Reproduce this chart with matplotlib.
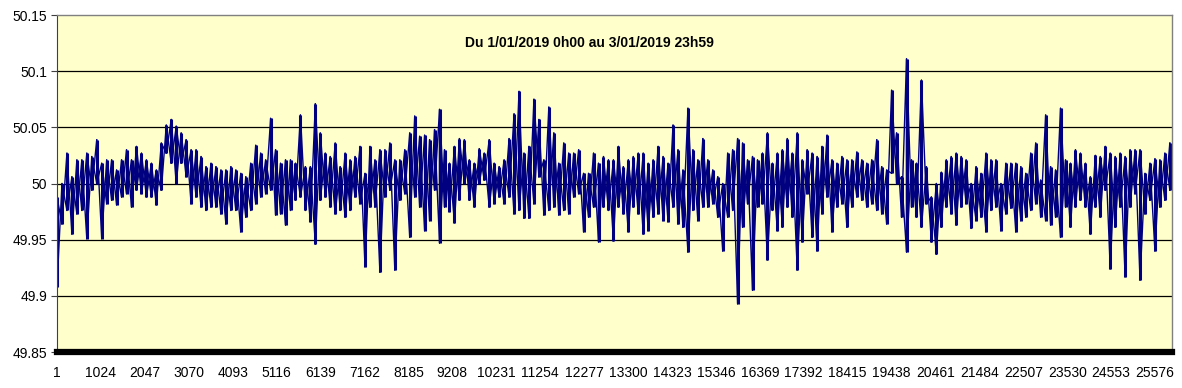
import matplotlib
matplotlib.use('Agg')
import numpy as np
import matplotlib.pyplot as plt

plt.rcParams['font.family'] = ['Liberation Sans', 'DejaVu Sans']

TITLE = 'Du 1/01/2019 0h00 au 3/01/2019 23h59'
NPTS = 25920                       # 3 days of 10 s samples
XTICKS = list(range(1, 25577, 1023))
YTICKS = [49.85, 49.9, 49.95, 50.0, 50.05, 50.1, 50.15]
YLABELS = ['49.85', '49.9', '49.95', '50', '50.05', '50.1', '50.15']

# upper / lower envelope of the trace, in mHz from 50 Hz
HI = [-12, 0, 27, 6, 21, 21, 27, 24, 39, 18, 21, 21, 12, 21, 30, 21, 33, 27, 21, 18, 12, 36, 52, 57, 51,
      45, 39, 30, 30, 24, 15, 18, 15, 12, 12, 15, 12, 9, 6, 18, 34, 27, 21, 58, 30,
      18, 21, 21, 18, 61, 15, 15, 71, 45, 27, 24, 36, 15, 27, 21, 24, 33, 9, 33, 21, 30, 30, 36, 21, 21,
      30, 45, 60, 42, 43, 39, 48, 66, 30, 18, 33, 40, 39, 21, 18, 31, 27, 39, 18, 15,
      21, 40, 62, 82, 27, 33, 75, 57, 21, 68, 45, 18, 36, 27, 27, 30, 9, 9, 27, 18, 24, 21, 21, 33, 15,
      21, 24, 27, 27, 18, 21, 33, 24, 18, 52, 30, 12, 67, 30, 21, 40, 21, 12, 6, 0,
      27, 30, 40, 36, 21, 24, 21, 27, 45, 18, 27, 30, 40, 27, 45, 21, 30, 27, 24, 33, 43, 21, 18, 24, 21,
      21, 28, 21, 18, 21, 39, 15, 12, 83, 45, 6, 111, 21, 18, 92, 15, -12, 0, 10, 21,
      24, 27, 24, 21, 0, 15, 9, 27, 21, 21, 0, 18, 18, 18, 15, 9, 27, 36, 3, 61, 15, 12, 67, 21, 18,
      30, 27, 18, 6, 25, 24, 33, 27, 24, 27, 24, 30, 30, 30, 9, 18, 22, 21, 27, 36]
LO = [-92, -36, -24, -45, -27, -24, -49, -6, 0, -49, -18, -15, -19, -12, -9, -21, -6, -9, -12, -12, -19, -6,
      27, 18, 0, 18, 6, -18, -12, -21, -24, -21, -21, -27, -36, -24, -24, -43, -30, -24, -18, -12, -9, -6, -28,
      -27, -37, -24, -15, -12, -24, -34, -54, -15, -12, -21, -27, -24, -30, -24, -12, -18, -74, -21, -21,
      -79, -12, -6, -77, -15, -9, -48, -12, -21, -42, -33, -6, -53, -21, -25, -35, -15, 0, -15, -21, 0, 3, -21, -18, -12,
      -18, -12, -27, -24, -31, -31, -18, 6, -28, -24, -21, -28, -24, -27, -12, -9, -43, -30, -21, -52,
      -21, -24, -51, -21, -27, -43, -21, -27, -45, -42, -30, -27, -33, -34, -21, -36, -39, -61, -24, -33, -21, -21, -18, -30, -60,
      -30, -24, -107, -39, -18, -95, -21, -18, -68, -24, -42, -39, -21, -30, -77, -52, -9, -48, -60, -27,
      -12, -43, -21, -18, -39, -21, -12, -15, -21, -18, -24, -27, -36, 9, 0, -30, -61, -21, -30, -39, -18, -52, -63, -39, -21,
      -27, -37, -21, -18, -40, -33, -30, -43, -24, -21, -42, -27, -22, -43, -33, -30, -24, -18, -30, -33,
      -37, -30, -48, -21, -39, -21, -15, -21, -45, -21, -30, -6, -76, -39, -21, -83, -21, -9, -86, -27, -15, -60, -21, -15, -6]

BG = '#FFFFCC'
LINE = '#000080'

hi = 50 + np.array(HI) / 1000.0
lo = 50 + np.array(LO) / 1000.0
pos = np.linspace(1, NPTS, len(HI))
xx = np.repeat(pos, 2)
path_a = np.column_stack([hi, lo]).ravel()   # down inside each slot
path_b = np.column_stack([lo, hi]).ravel()   # up inside each slot

fig = plt.figure(figsize=(11.82, 3.88), dpi=100)
ax = fig.add_axes([57 / 1182, 36 / 388, 1115 / 1182, 337 / 388])
ax.set_facecolor(BG)

for v in YTICKS[1:-1]:
    ax.axhline(v, color='black', lw=0.9, zorder=1)
ax.vlines(pos, lo, hi, color=LINE, lw=2.2, zorder=2)
ax.plot(xx, path_a, color=LINE, lw=1.0, zorder=2)
ax.plot(xx, path_b, color=LINE, lw=1.0, zorder=2)

ax.set_xlim(1, 25970)
ax.set_ylim(49.85, 50.15)
ax.set_yticks(YTICKS)
ax.set_yticklabels(YLABELS)
ax.set_xticks(XTICKS)
ax.set_xticklabels([str(t) for t in XTICKS])
ax.tick_params(axis='y', length=4, width=0.8, pad=3, labelsize=10, color='#404040')
ax.tick_params(axis='x', length=0, pad=10, labelsize=10)

ax.spines['bottom'].set_linewidth(4.5)
ax.spines['bottom'].set_color('black')
ax.spines['left'].set_color('#404040')
ax.spines['left'].set_linewidth(0.8)
for s in ('top', 'right'):
    ax.spines[s].set_color('#808080')
    ax.spines[s].set_linewidth(1.0)

fig.text(0.499, 0.889, TITLE, ha='center', va='center', fontsize=10, fontweight='bold')

fig.savefig('out.png', dpi=100, facecolor='white')
